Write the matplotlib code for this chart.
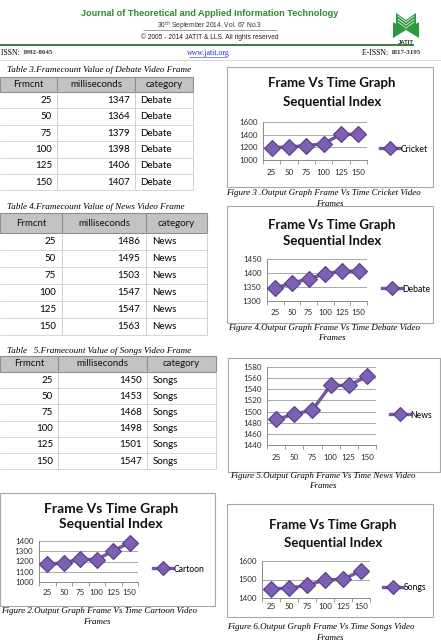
import matplotlib.pyplot as plt
from matplotlib.patches import Rectangle, Polygon

W, H = 441, 643

# data
frames = [25, 50, 75, 100, 125, 150]
debate_ms = [1347, 1364, 1379, 1398, 1406, 1407]
news_ms = [1486, 1495, 1503, 1547, 1547, 1563]
songs_ms = [1450, 1453, 1468, 1498, 1501, 1547]
cartoon_ms = [1172, 1189, 1222, 1218, 1305, 1384]
cricket_ms = [1193, 1208, 1224, 1260, 1405, 1407]
col_names = ['Frmcnt', 'milliseconds', 'category']

SERIF = 'Liberation Serif'
SANS = 'Liberation Sans'
CHART = 'Lato'
GREEN = '#2F8A2F'
PURPLE = '#7456A8'

fig = plt.figure(figsize=(W / 100, H / 100), dpi=100)
page = fig.add_axes([0, 0, 1, 1])
page.set_xlim(0, W)
page.set_ylim(H, 0)
page.axis('off')

# ---- page header ----
page.text(210, 14, 'Journal of Theoretical and Applied Information Technology',
          ha='center', va='center', fontsize=6.6, fontweight='bold', color=GREEN, family=SANS)
page.text(210, 26, '30$^{th}$ September 2014. Vol. 67 No.3', ha='center', va='center',
          fontsize=4.8, color='#333333', family=SANS)
page.hlines(29.5, 143, 277, color='#555555', lw=0.4)
page.text(210, 37, '© 2005 - 2014 JATIT & LLS. All rights reserved', ha='center', va='center',
          fontsize=4.8, color='#222222', family=SANS)
page.hlines(45, 0, 414, color='#3C7A3C', lw=1.4)
page.text(1, 53, 'ISSN: ', ha='left', va='center', fontsize=5.6, family=SERIF)
page.text(22, 53, '1992-8645', ha='left', va='center', fontsize=5.0, family=SERIF,
          fontweight='bold', color='#333333')
page.text(208, 53, 'www.jatit.org', ha='center', va='center', fontsize=5.6, family=SERIF,
          color='#2233CC')
page.hlines(57, 189, 227, color='#2233CC', lw=0.4)
page.text(362, 53, 'E-ISSN: ', ha='left', va='center', fontsize=5.6, family=SERIF)
page.text(390, 53, '1817-3195', ha='left', va='center', fontsize=5.0, family=SERIF,
          fontweight='bold', color='#333333')
page.hlines(59.5, 0, W, color='#D0D0D0', lw=0.6)

# logo
page.add_patch(Polygon([(393, 22), (406, 30), (393, 38)], closed=True, fc='#2E9A3E', ec='none'))
page.add_patch(Polygon([(419, 22), (406, 30), (419, 38)], closed=True, fc='#2E9A3E', ec='none'))
page.add_patch(Polygon([(396, 13), (406, 20), (416, 13), (416, 25), (406, 30), (396, 25)],
                       closed=True, fc='#2E9A3E', ec='none'))
for k in range(3):
    page.plot([398, 406, 414], [16 + 3 * k, 22 + 3 * k, 16 + 3 * k], color='white', lw=0.5)
page.text(406, 42, 'JATIT', ha='center', va='center', fontsize=4.2, fontweight='bold',
          color='#333333', family=SANS)


# ---- tables ----
def draw_table(caption, cap_y, top, head_h, row_h, cols, values, label, num_pad, cat_pad):
    page.text(7, cap_y, caption, ha='left', va='center', fontsize=6.6, style='italic', family=SERIF)
    for i in range(3):
        page.add_patch(Rectangle((cols[i], top), cols[i + 1] - cols[i], head_h,
                                 fc='#C3C3C3', ec='#8E8E8E', lw=0.8))
        page.text((cols[i] + cols[i + 1]) / 2, top + head_h / 2, col_names[i], ha='center',
                  va='center', fontsize=7, family=CHART, color='#111111')
    bottom = top + head_h + row_h * len(values)
    for c in cols[1:]:
        page.vlines(c, top + head_h, bottom, color='#D0D0D0', lw=0.7)
    for j, (f, v) in enumerate(zip(frames, values)):
        yc = top + head_h + (j + 0.5) * row_h
        page.hlines(top + head_h + (j + 1) * row_h, cols[0], cols[3], color='#D6D6D6', lw=0.7)
        page.text(cols[1] - num_pad, yc, str(f), ha='right', va='center', fontsize=7, family=CHART)
        page.text(cols[2] - num_pad, yc, str(v), ha='right', va='center', fontsize=7, family=CHART)
        page.text(cols[2] + cat_pad, yc, label, ha='left', va='center', fontsize=7, family=CHART)


draw_table('Table 3.Framecount Value of Debate Video Frame', 70, 77, 15, 16.4,
           [0, 57, 135, 193], debate_ms, 'Debate', 5, 5)
draw_table('Table 4.Framecount Value of News Video Frame', 207, 213, 20, 17,
           [0, 62, 146, 207], news_ms, 'News', 6, 6)
draw_table('Table   5.Framecount Value of Songs Video Frame', 351, 356, 16, 16.2,
           [0, 58, 147, 216], songs_ms, 'Songs', 5, 6)


# ---- charts ----
def draw_chart(box, plot, ylim, step, values, name, title_pos, title_size, leg, xpad,
               cap, cap_y, frames_x):
    x0, y0, x1, y1 = box
    page.add_patch(Rectangle((x0, y0), x1 - x0, y1 - y0, fill=False, ec='#A8A8A8', lw=0.8))
    if title_pos:
        cx, t1, t2 = title_pos
        page.text(cx, t1, 'Frame Vs Time Graph', ha='center', va='center', fontsize=title_size,
                  fontweight='bold', family=CHART, color='#111111')
        page.text(cx, t2, 'Sequential Index', ha='center', va='center', fontsize=title_size,
                  fontweight='bold', family=CHART, color='#111111')
    px0, px1, ptop, pbot = plot
    ax = fig.add_axes([px0 / W, 1 - pbot / H, (px1 - px0) / W, (pbot - ptop) / H])
    ax.set_facecolor('none')
    xs = list(range(len(frames)))
    line, = ax.plot(xs, values, color=PURPLE, lw=2.4, marker='D', ms=8.5,
                    mfc='#7E60B2', mec='#563B8A', mew=0.8, clip_on=False, zorder=3, label=name)
    ax.set_xlim(-0.5, len(frames) - 0.5)
    ax.set_ylim(*ylim)
    ax.set_yticks(range(ylim[0], ylim[1] + 1, step))
    ax.set_xticks(xs)
    ax.set_xticklabels([str(f) for f in frames])
    ax.set_xticks([x - 0.5 for x in range(len(frames) + 1)], minor=True)
    ax.tick_params(axis='x', which='major', length=0, pad=xpad, labelsize=5.8, colors='#2A2A2A')
    ax.tick_params(axis='x', which='minor', length=3, color='#8A8A8A', width=0.6)
    ax.tick_params(axis='y', length=0, pad=4, labelsize=5.8, colors='#2A2A2A')
    for lab in ax.get_xticklabels() + ax.get_yticklabels():
        lab.set_family(CHART)
    ax.grid(axis='y', color='#9A9A9A', lw=0.6)
    ax.set_axisbelow(True)
    for s in ['top', 'right']:
        ax.spines[s].set_visible(False)
    for s in ['left', 'bottom']:
        ax.spines[s].set_color('#8A8A8A')
        ax.spines[s].set_linewidth(0.7)
    lx, ly = leg
    ax.legend(handles=[line], loc='center left', bbox_to_anchor=(lx, ly),
              bbox_transform=page.transData, frameon=False, borderpad=0,
              borderaxespad=0, handlelength=2.3, handletextpad=0.1,
              prop={'family': CHART, 'size': 6.2}, markerscale=0.8)
    page.text(cap[0], cap_y, cap[1], ha='left', va='center', fontsize=6.5, style='italic',
              family=SERIF)
    page.text(frames_x, cap_y + 10.5, 'Frames', ha='center', va='center', fontsize=6.5,
              style='italic', family=SERIF)


draw_chart((0, 493, 215, 606), (39, 138, 541, 582), (1000, 1400), 100, cartoon_ms, 'Cartoon',
           (111, 509, 524), 10, (153, 569), 5,
           (1, 'Figure 2.Output Graph Frame Vs Time Cartoon Video'), 611, 97)
draw_chart((227, 67, 433, 187), (263, 367, 122, 160), (1000, 1600), 200, cricket_ms, 'Cricket',
           (332, 83, 102), 9.5, (380, 149), 6.5,
           (226, 'Figure 3 .Output Graph Frame Vs Time Cricket Video'), 193, 330)
draw_chart((227, 206, 433, 323), (267, 367, 259, 301), (1300, 1450), 50, debate_ms, 'Debate',
           (332, 225, 241), 9.5, (382, 289), 5.8,
           (228, 'Figure 4.Output Graph Frame Vs Time Debate Video'), 328, 332)
draw_chart((228, 358, 440, 472), (267, 376, 367, 445), (1440, 1580), 20, news_ms, 'News',
           None, 9.5, (390, 415), 6.5,
           (230, 'Figure 5.Output Graph Frame Vs Time News Video'), 476, 323)
draw_chart((227, 504, 433, 617), (262, 370, 561, 598), (1400, 1600), 100, songs_ms, 'Songs',
           (333, 525, 543), 9.5, (383, 588), 3.6,
           (227, 'Figure 6.Output Graph Frame Vs Time Songs Video'), 627, 330)

fig.savefig('out.png', dpi=100)
